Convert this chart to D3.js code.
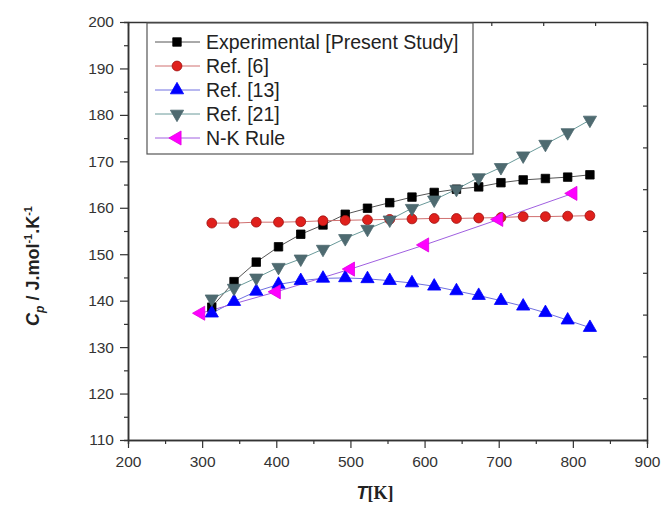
<!DOCTYPE html>
<html>
<head>
<meta charset="utf-8">
<script src="https://cdn.jsdelivr.net/npm/d3@7"></script>
<style>
  body { margin: 0; background: #fff; }
  svg { font-family: "Liberation Sans", Arial, sans-serif; }
</style>
</head>
<body>
<div id="chart"></div>
<script>
// temperatures of the measured / literature points
var temps = [313, 343, 373, 403, 433, 463, 493, 523, 553, 583, 613, 643, 673, 703, 733, 763, 793, 823];
var expCp   = [138.6, 144.1, 148.3, 151.6, 154.3, 156.3, 158.6, 159.9, 161.1, 162.3, 163.3, 164.0, 164.5, 165.4, 166.0, 166.3, 166.6, 167.1];
var ref6Cp  = [156.7, 156.7, 156.9, 156.9, 157.0, 157.2, 157.3, 157.4, 157.5, 157.6, 157.7, 157.7, 157.8, 157.9, 158.1, 158.1, 158.2, 158.3];
var ref13Cp = [137.3, 139.8, 142.0, 143.5, 144.3, 144.8, 144.9, 144.7, 144.3, 143.8, 143.1, 142.1, 141.1, 140.0, 138.8, 137.4, 135.8, 134.2];
var ref21Cp = [140.4, 142.7, 144.9, 147.2, 149.0, 151.1, 153.4, 155.4, 157.4, 159.9, 161.7, 164.0, 166.5, 168.7, 171.2, 173.7, 176.2, 178.9];
var nkTemps = [298, 400, 500, 600, 700, 800];
var nkCp    = [137.3, 141.9, 146.8, 152.0, 157.5, 163.1];

var legendLabels = ["Experimental [Present Study]", "Ref. [6]", "Ref. [13]", "Ref. [21]", "N-K Rule"];
var xTicks = [200, 300, 400, 500, 600, 700, 800, 900];
var xMinor = [250, 350, 450, 550, 650, 750, 850];
var yTicks = [110, 120, 130, 140, 150, 160, 170, 180, 190, 200];
var yMinor = [115, 125, 135, 145, 155, 165, 175, 185, 195];

var margin = {left: 128, top: 22, right: 14, bottom: 66};
var outerWidth = 661, outerHeight = 506;
var width = outerWidth - margin.left - margin.right,
    height = outerHeight - margin.top - margin.bottom;

var svg = d3.select("#chart").append("svg")
    .attr("width", outerWidth)
    .attr("height", outerHeight);

var g = svg.append("g")
    .attr("transform", "translate(" + margin.left + "," + margin.top + ")");

var xScale = d3.scaleLinear().domain([200, 900]).range([0, width]);
var yScale = d3.scaleLinear().domain([110, 200]).range([height, 0]);
// top / right frame axes have their own 10 divisions
var topScale = d3.scaleLinear().domain([0, 10]).range([0, width]);
var rightScale = d3.scaleLinear().domain([0, 10]).range([height, 0]);

var zip = function(ts, vs) { return ts.map(function(t, i) { return {t: t, cp: vs[i]}; }); };

var series = [
    {name: legendLabels[0], data: zip(temps, expCp),   shape: d3.symbolSquare,   size: 72, rot: 0,   fill: "#000",    stroke: "#000",    line: "#555"},
    {name: legendLabels[1], data: zip(temps, ref6Cp),  shape: d3.symbolCircle,   size: 76, rot: 0,   fill: "#e0201c", stroke: "#a01010", line: "#d07070"},
    {name: legendLabels[2], data: zip(temps, ref13Cp), shape: d3.symbolTriangle, size: 76, rot: 0,   fill: "#0000ff", stroke: "#0000ff", line: "#7070e0"},
    {name: legendLabels[3], data: zip(temps, ref21Cp), shape: d3.symbolTriangle, size: 76, rot: 180, fill: "#4e6a70", stroke: "#4e6a70", line: "#6a9a9a"},
    {name: legendLabels[4], data: zip(nkTemps, nkCp),  shape: d3.symbolTriangle, size: 86, rot: -90, fill: "#ff00ff", stroke: "#e000e0", line: "#a060e0"}
];

var axisColor = "#333";

// Axes
var styleAxis = function(sel) {
    sel.selectAll("path").attr("stroke", axisColor).attr("stroke-width", 1.5);
    sel.selectAll("line").attr("stroke", axisColor).attr("stroke-width", 1.2);
    sel.selectAll("text").attr("fill", "#333").attr("font-size", 15.5)
        .attr("font-family", "Liberation Sans, Arial, sans-serif");
};

g.append("g")
    .attr("transform", "translate(0," + height + ")")
    .call(d3.axisBottom(xScale).tickValues(xMinor).tickSize(4).tickFormat(""))
    .call(styleAxis);
g.append("g")
    .attr("transform", "translate(0," + height + ")")
    .call(d3.axisBottom(xScale).tickValues(xTicks).tickSize(8).tickPadding(8).tickSizeOuter(0))
    .call(styleAxis);

g.append("g")
    .call(d3.axisLeft(yScale).tickValues(yMinor).tickSize(4).tickFormat(""))
    .call(styleAxis);
g.append("g")
    .call(d3.axisLeft(yScale).tickValues(yTicks).tickSize(8).tickPadding(6).tickSizeOuter(0))
    .call(styleAxis);

g.append("g")
    .call(d3.axisBottom(topScale).ticks(10).tickSize(4).tickSizeOuter(0).tickFormat(""))
    .call(styleAxis);
g.append("g")
    .attr("transform", "translate(" + width + ",0)")
    .call(d3.axisLeft(rightScale).ticks(10).tickSize(4).tickSizeOuter(0).tickFormat(""))
    .call(styleAxis);

// Lines
var line = d3.line()
    .x(function(d) { return xScale(d.t); })
    .y(function(d) { return yScale(d.cp); });

g.selectAll(".series-line")
    .data(series)
    .enter().append("path")
    .attr("class", "series-line")
    .attr("d", function(s) { return line(s.data); })
    .attr("fill", "none")
    .attr("stroke", function(s) { return s.line; })
    .attr("stroke-width", 1);

// Markers
series.forEach(function(s) {
    var sym = d3.symbol().type(s.shape).size(s.size);
    g.append("g").selectAll("path")
        .data(s.data)
        .enter().append("path")
        .attr("d", sym)
        .attr("transform", function(d) {
            return "translate(" + xScale(d.t) + "," + yScale(d.cp) + ") rotate(" + s.rot + ")";
        })
        .attr("fill", s.fill)
        .attr("stroke", s.stroke)
        .attr("stroke-width", 0.8);
});

// Legend
var legend = svg.append("g").attr("transform", "translate(147,23)");
legend.append("rect")
    .attr("width", 326)
    .attr("height", 131)
    .attr("fill", "#fff")
    .attr("stroke", "#555")
    .attr("stroke-width", 1.2);

var rows = legend.selectAll(".lgd")
    .data(series)
    .enter().append("g")
    .attr("class", "lgd")
    .attr("transform", function(d, i) { return "translate(0," + (19 + i * 24) + ")"; });

rows.append("line")
    .attr("x1", 8).attr("x2", 53)
    .attr("stroke", function(s) { return s.line; })
    .attr("stroke-width", 1);
rows.append("path")
    .attr("d", function(s) { return d3.symbol().type(s.shape).size(s.size)(); })
    .attr("transform", function(s) { return "translate(30,0) rotate(" + s.rot + ")"; })
    .attr("fill", function(s) { return s.fill; })
    .attr("stroke", function(s) { return s.stroke; })
    .attr("stroke-width", 0.8);
rows.append("text")
    .attr("x", 59)
    .attr("y", 7)
    .attr("font-size", 19.5)
    .attr("fill", "#222")
    .text(function(s) { return s.name; });

// Axis titles
var yTitle = svg.append("text")
    .attr("transform", "translate(39,266) rotate(-90)")
    .attr("text-anchor", "middle")
    .attr("font-size", 18)
    .attr("font-weight", "bold")
    .attr("fill", "#222");
yTitle.append("tspan").attr("font-style", "italic").text("C");
yTitle.append("tspan").attr("font-style", "italic").attr("font-size", 12).attr("dy", 5).text("p");
yTitle.append("tspan").attr("dy", -5).text(" / J.mol");
yTitle.append("tspan").attr("font-size", 11).attr("dy", -7).text("-1");
yTitle.append("tspan").attr("dy", 7).text(".K");
yTitle.append("tspan").attr("font-size", 11).attr("dy", -7).text("-1");

var xTitle = svg.append("text")
    .attr("x", 375)
    .attr("y", 499)
    .attr("text-anchor", "middle")
    .attr("font-size", 18)
    .attr("font-weight", "bold")
    .attr("fill", "#222");
xTitle.append("tspan").attr("font-style", "italic").text("T");
xTitle.append("tspan").attr("font-family", "Liberation Serif, serif").text("[K]");
</script>
</body>
</html>
